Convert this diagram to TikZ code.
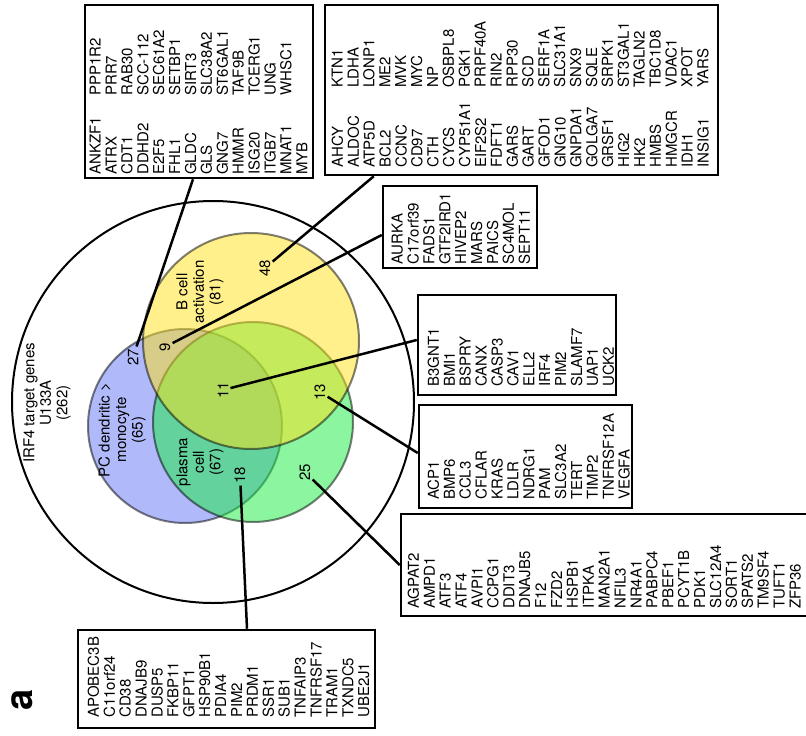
\documentclass[tikz,border=0pt]{standalone}
\usepackage{fontspec}
\setmainfont{TeX Gyre Heros}
\definecolor{pcblue}{RGB}{97,117,245}
\definecolor{bcyellow}{RGB}{255,225,25}
\definecolor{plgreen}{RGB}{25,235,65}
\def\gfont{\fontsize{15}{15.9}\selectfont}
\def\vfont{\fontsize{15}{16.5}\selectfont}
\tikzstyle{genes}=[rotate=90,anchor=north west,align=left,inner sep=0pt,font=\gfont]
\tikzstyle{vlabel}=[rotate=90,align=center,inner sep=0pt,font=\vfont]
\tikzstyle{num}=[rotate=90,inner sep=2pt,font=\gfont]
\tikzstyle{gbox}=[draw,rectangle,line width=2.5pt,inner sep=0pt]
\tikzstyle{set}=[draw=black,draw opacity=0.5,fill opacity=0.5,line width=2pt,circle,inner sep=0pt]
\tikzstyle{link}=[line width=2.5pt]

\begin{document}
\begin{tikzpicture}[x=1pt,y=-1pt]
  \useasboundingbox (0,0) rectangle (806,736);

  % venn circles
  \node[set,fill=pcblue,minimum size=194pt] (pc) at (185,426) {};
  \node[set,fill=plgreen,minimum size=200pt] (pl) at (253,422) {};
  \node[set,fill=bcyellow,minimum size=216pt] (bc) at (251,341) {};
  % all target genes
  \node[draw,circle,line width=2pt,minimum size=402pt] (all) at (213,402) {};

  \node[vlabel] (alllab) at (47,403) {IRF4 target genes\\U133A\\(262)};
  \node[vlabel] (pclab) at (122,430) {PC dendritic >\\monocyte\\(65)};
  \node[vlabel] (bclab) at (200,292) {B cell\\activation\\(81)};
  \node[vlabel] (pllab) at (200,462) {plasma\\cell\\(67)};

  \node[num] (n27) at (133,357) {27};
  \node[num] (n9) at (165,347) {9};
  \node[num] (n48) at (265,268) {48};
  \node[num] (n11) at (223,390) {11};
  \node[num] (n13) at (320,392) {13};
  \node[num] (n18) at (240,475) {18};
  \node[num] (n25) at (305,472) {25};

  % gene box for 27
  \node[gbox,minimum width=228pt,minimum height=173pt] (box27) at (199,91.5) {};
  \node[genes] (g27a) at (89.5,175) {ANKZF1\\ATRX\\CDT1\\DDHD2\\E2F5\\FHL1\\GLDC\\GLS\\GNG7\\HMMR\\ISG20\\ITGB7\\MNAT1\\MYB};
  \node[genes] (g27b) at (89.5,96) {PPP1R2\\PRR7\\RAB30\\SCC-112\\SEC61A2\\SETBP1\\SIRT3\\SLC38A2\\ST6GAL1\\TAF9B\\TCERG1\\UNG\\WHSC1};

  % gene box for 48
  \node[gbox,minimum width=393pt,minimum height=170pt] (box48) at (521.5,90) {};
  \node[genes] (g48a) at (331.5,168) {AHCY\\ALDOC\\ATP5D\\BCL2\\CCNC\\CD97\\CTH\\CYCS\\CYP51A1\\EIF2S2\\FDFT1\\GARS\\GART\\GFOD1\\GNG10\\GNPDA1\\GOLGA7\\GRSF1\\HIG2\\HK2\\HMBS\\HMGCR\\IDH1\\INSIG1};
  \node[genes] (g48b) at (331.5,88) {KTN1\\LDHA\\LONP1\\ME2\\MVK\\MYC\\NP\\OSBPL8\\PGK1\\PRPF40A\\RIN2\\RPP30\\SCD\\SERF1A\\SLC31A1\\SNX9\\SQLE\\SRPK1\\ST3GAL1\\TAGLN2\\TBC1D8\\VDAC1\\XPOT\\YARS};

  % gene box for 9
  \node[gbox,minimum width=154pt,minimum height=82pt] (box9) at (460,227) {};
  \node[genes] (g9) at (391.5,265) {AURKA\\C17orf39\\FADS1\\GTF2IRD1\\HIVEP2\\MARS\\PAICS\\SC4MOL\\SEPT11};

  % gene box for 11
  \node[gbox,minimum width=198pt,minimum height=100pt] (box11) at (517,345) {};
  \node[genes] (g11) at (427.5,387) {B3GNT1\\BMI1\\BSPRY\\CANX\\CASP3\\CAV1\\ELL2\\IRF4\\PIM2\\SLAMF7\\UAP1\\UCK2};

  % gene box for 13
  \node[gbox,minimum width=213pt,minimum height=103pt] (box13) at (525.5,456.5) {};
  \node[genes] (g13) at (427.5,500) {ACP1\\BMP6\\CCL3\\CFLAR\\KRAS\\LDLR\\NDRG1\\PAM\\SLC3A2\\TERT\\TIMP2\\TNFRSF12A\\VEGFA};

  % gene box for 25
  \node[gbox,minimum width=412pt,minimum height=102pt] (box25) at (607,565) {};
  \node[genes] (g25) at (407.5,609) {AGPAT2\\AMPD1\\ATF3\\ATF4\\AVPI1\\CCPG1\\DDIT3\\DNAJB5\\F12\\FZD2\\HSPB1\\ITPKA\\MAN2A1\\NFIL3\\NR4A1\\PABPC4\\PBEF1\\PCYT1B\\PDK1\\SLC12A4\\SORT1\\SPATS2\\TM9SF4\\TUFT1\\ZFP36};

  % gene box for 18
  \node[gbox,minimum width=297pt,minimum height=98pt] (box18) at (226.5,679) {};
  \node[genes] (g18) at (87.5,718) {APOBEC3B\\C11orf24\\CD38\\DNAJB9\\DUSP5\\FKBP11\\GFPT1\\HSP90B1\\PDIA4\\PIM2\\PRDM1\\SSR1\\SUB1\\TNFAIP3\\TNFRSF17\\TRAM1\\TXNDC5\\UBE2J1};

  \draw[link] (n27) -- ([xshift=-6pt]box27.south);
  \draw[link] (n48) -- ([xshift=50pt]box48.south west);
  \draw[link] (n9) -- ([yshift=-8pt]box9.west);
  \draw[link] (n11) -- ([yshift=5pt]box11.west);
  \draw[link] (n13) -- ([yshift=3.5pt]box13.west);
  \draw[link] (n25) -- (box25.west);
  \draw[link] (n18) -- ([xshift=20.5pt]box18.north);

  \node[rotate=90,font=\fontsize{38}{38}\bfseries\selectfont] (panel) at (22,700) {a};
\end{tikzpicture}
\end{document}
